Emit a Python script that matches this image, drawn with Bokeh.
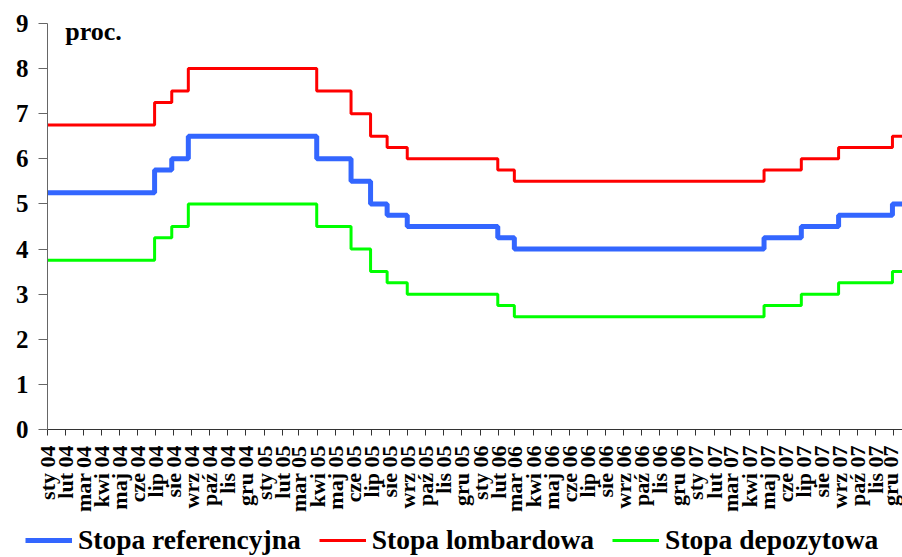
import math
import datetime as dt
from bokeh.plotting import figure
from bokeh.layouts import column
from bokeh.models import Range1d, FixedTicker, Legend, LegendItem, Label
from bokeh.embed import file_html
from bokeh.resources import INLINE

# ---- data ----
month_names = ["sty", "lut", "mar", "kwi", "maj", "cze", "lip", "sie", "wrz", "paź", "lis", "gru"]
years = [2004, 2005, 2006, 2007]

change_dates = ["2004-01-01", "2004-06-30", "2004-07-29", "2004-08-26", "2005-03-31",
                "2005-05-28", "2005-06-30", "2005-07-28", "2005-08-31", "2006-01-31",
                "2006-02-28", "2007-04-26", "2007-06-28", "2007-08-30", "2007-11-29",
                "2007-12-31"]
stopa_referencyjna = [5.25, 5.75, 6.00, 6.50, 6.00, 5.50, 5.00, 4.75, 4.50, 4.25,
                      4.00, 4.25, 4.50, 4.75, 5.00, 5.00]
stopa_lombardowa = [6.75, 7.25, 7.50, 8.00, 7.50, 7.00, 6.50, 6.25, 6.00, 5.75,
                    5.50, 5.75, 6.00, 6.25, 6.50, 6.50]
stopa_depozytowa = [3.75, 4.25, 4.50, 5.00, 4.50, 4.00, 3.50, 3.25, 3.00, 2.75,
                    2.50, 2.75, 3.00, 3.25, 3.50, 3.50]

series_names = ["Stopa referencyjna", "Stopa lombardowa", "Stopa depozytowa"]
series_values = [stopa_referencyjna, stopa_lombardowa, stopa_depozytowa]
series_colors = ["#3366FF", "#FF0000", "#00FF00"]
series_widths = [5, 3, 3]

# ---- helpers ----
origin = dt.date(2004, 1, 1)
def days(s):
    d = dt.date.fromisoformat(s)
    return (d - origin).days

xs = [days(s) for s in change_dates]

tick_pos = []
tick_lab = {}
for y in years:
    for m in range(12):
        d = (dt.date(y, m + 1, 1) - origin).days
        tick_pos.append(d)
        tick_lab[d] = f"{month_names[m]} {str(y)[2:]}"

FONT = "Liberation Serif"
PX_PER_UNIT = 407 / 9.0      # frame: value 0 at 430 px, value 9 at 23 px
FRAME_H = 430

p = figure(width=902, height=515, x_range=Range1d(0, 1445),
           y_range=Range1d(0, FRAME_H / PX_PER_UNIT),
           output_backend="svg", toolbar_location=None,
           min_border_left=47, min_border_right=0, min_border_top=0, min_border_bottom=85)
p.outline_line_color = None
p.xgrid.visible = False
p.ygrid.visible = False
p.background_fill_color = "white"
p.border_fill_color = "white"

for vals, col, lw in zip(series_values, series_colors, series_widths):
    p.step(xs, vals, mode="after", line_color=col, line_width=lw)

# y axis
p.yaxis.ticker = FixedTicker(ticks=list(range(0, 10)))
p.yaxis.bounds = (0, 9)
p.yaxis.minor_tick_line_color = None
p.yaxis.major_tick_in = 0
p.yaxis.major_tick_out = 9
p.yaxis.major_label_standoff = 10
p.yaxis.major_label_text_font = FONT
p.yaxis.major_label_text_font_style = "bold"
p.yaxis.major_label_text_font_size = "25px"
p.yaxis.major_label_text_color = "black"
p.yaxis.axis_line_color = "#666666"
p.yaxis.major_tick_line_color = "#666666"

# x axis
p.xaxis.ticker = FixedTicker(ticks=tick_pos)
p.xaxis.major_label_overrides = tick_lab
p.xaxis.major_label_orientation = math.pi / 2
p.xaxis.minor_tick_line_color = None
p.xaxis.major_tick_in = 0
p.xaxis.major_tick_out = 6
p.xaxis.major_label_standoff = 10
p.xaxis.major_label_text_font = FONT
p.xaxis.major_label_text_font_style = "bold"
p.xaxis.major_label_text_font_size = "22px"
p.xaxis.major_label_text_color = "black"
p.xaxis.axis_line_color = "#333333"
p.xaxis.major_tick_line_color = "#333333"

# "proc." label
p.add_layout(Label(x=30, y=8.82, text="proc.", text_font=FONT, text_font_style="bold",
                   text_font_size="26px", text_baseline="alphabetic", text_align="left",
                   text_color="black"))

# ---- legend strip (same series, drawn outside its visible range) ----
p2 = figure(width=902, height=42, x_range=Range1d(0, 1445), y_range=Range1d(100, 101),
            output_backend="svg", toolbar_location=None,
            x_axis_location=None, y_axis_location=None,
            min_border=0, min_border_left=0, min_border_right=0,
            min_border_top=0, min_border_bottom=0)
p2.outline_line_color = None
p2.xgrid.visible = False
p2.ygrid.visible = False

legend_x = 25
try:
    p.frame_align = False
    p2.frame_align = False
except AttributeError:
    legend_x = 25

items = []
for name, vals, col, lw in zip(series_names, series_values, series_colors, series_widths):
    r = p2.step(xs, vals, mode="after", line_color=col, line_width=lw)
    items.append(LegendItem(label=name, renderers=[r]))

legend = Legend(items=items, orientation="horizontal", location=(legend_x, 1),
                glyph_width=47, glyph_height=30, label_height=30, label_standoff=6,
                spacing=18, padding=0, margin=0,
                label_text_font=FONT, label_text_font_style="bold",
                label_text_font_size="27.5px", label_text_color="black",
                border_line_alpha=0, background_fill_alpha=0)
p2.add_layout(legend, "center")

layout = column(p, p2, spacing=0)
open("out.html", "w").write(file_html(layout, INLINE))
